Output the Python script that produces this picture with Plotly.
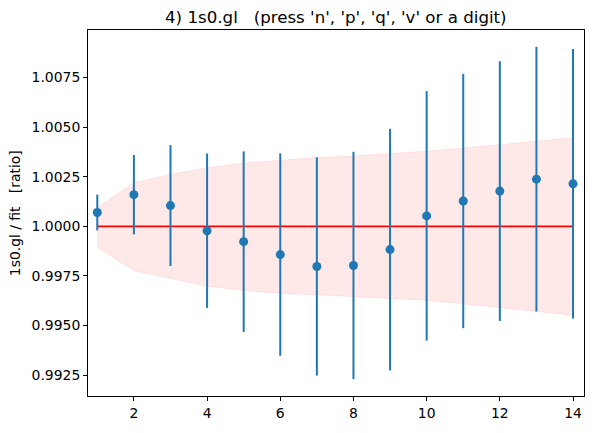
import plotly.graph_objects as go

x_vals = list(range(1, 15))
ratio = [1.00070, 1.00160, 1.00105, 0.99978, 0.99923, 0.99858, 0.99798,
         0.99803, 0.99883, 1.00053, 1.00128, 1.00178, 1.00238, 1.00215]
err = [0.00090, 0.00200, 0.00305, 0.00389, 0.00455, 0.00510, 0.00550,
       0.00573, 0.00609, 0.00629, 0.00641, 0.00655, 0.00667, 0.00679]
band_upper = [1.00095, 1.00220, 1.00262, 1.00295, 1.00320, 1.00333, 1.00347,
              1.00355, 1.00366, 1.00379, 1.00395, 1.00412, 1.00430, 1.00447]
band_lower = [0.99895, 0.99777, 0.99738, 0.99698, 0.99678, 0.99662, 0.99655,
              0.99645, 0.99637, 0.99628, 0.99610, 0.99590, 0.99570, 0.99552]
y_ticks = [0.9925, 0.9950, 0.9975, 1.0000, 1.0025, 1.0050, 1.0075]
x_ticks = [2, 4, 6, 8, 10, 12, 14]

W, H = 597, 433
ml, mr, mt, mb = 88, 12, 30, 34
font = "DejaVu Sans"

fig = go.Figure()
fig.add_trace(go.Scatter(x=x_vals, y=band_lower, mode="lines",
                         line=dict(color="rgba(255,0,0,0.08)", width=1),
                         showlegend=False, hoverinfo="skip"))
fig.add_trace(go.Scatter(x=x_vals, y=band_upper, mode="lines", fill="tonexty",
                         fillcolor="rgba(255,0,0,0.09)",
                         line=dict(color="rgba(255,0,0,0.08)", width=1),
                         showlegend=False, hoverinfo="skip"))
fig.add_trace(go.Scatter(x=[x_vals[0], x_vals[-1]], y=[1.0, 1.0], mode="lines",
                         line=dict(color="red", width=1.7), showlegend=False))
fig.add_trace(go.Scatter(x=x_vals, y=ratio, mode="markers",
                         marker=dict(color="#1f77b4", size=9),
                         error_y=dict(type="data", array=err, visible=True,
                                      color="#1f77b4", thickness=2, width=0),
                         showlegend=False))

axis_common = dict(showgrid=False, zeroline=False, showline=True, linecolor="black",
                   linewidth=1, mirror=True, ticks="outside", ticklen=4,
                   tickcolor="black", tickwidth=1,
                   tickfont=dict(family=font, size=13.9, color="black"))
fig.update_xaxes(range=[0.746, 14.30], tickvals=x_ticks,
                 ticktext=[str(v) for v in x_ticks], **axis_common)
fig.update_yaxes(range=[0.99145, 1.0099], tickvals=y_ticks,
                 ticktext=[f"{v:.4f}" for v in y_ticks], **axis_common)

pw = W - ml - mr
ph = H - mt - mb
fig.add_annotation(text="4) 1s0.gl   (press 'n', 'p', 'q', 'v' or a digit)",
                   xref="paper", yref="paper", x=0.5, y=(H - mb - 17) / ph,
                   xanchor="center", yanchor="middle", showarrow=False,
                   font=dict(family=font, size=16.67, color="black"))
fig.add_annotation(text="1s0.gl / fit   [ratio]", textangle=-90,
                   xref="paper", yref="paper", x=(15 - ml) / pw, y=0.5,
                   xanchor="center", yanchor="middle", showarrow=False,
                   font=dict(family=font, size=13.9, color="black"))

fig.update_layout(width=W, height=H, margin=dict(l=ml, r=mr, t=mt, b=mb, pad=0),
                  paper_bgcolor="white", plot_bgcolor="white", showlegend=False)
fig.write_html("out.html")
